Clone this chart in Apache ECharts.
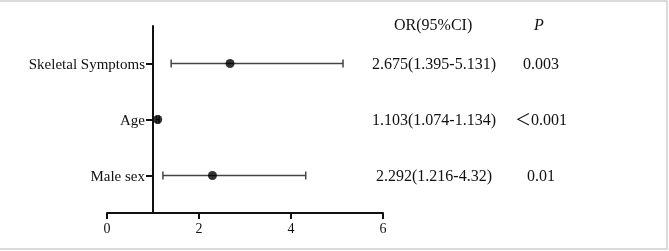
<!DOCTYPE html>
<html>
<head>
<meta charset="utf-8">
<script src="https://cdn.jsdelivr.net/npm/echarts@6/dist/echarts.min.js"></script>
<style>
  html, body { margin: 0; padding: 0; background: #fff; }
  #chart { width: 669px; height: 251px; }
</style>
</head>
<body>
<div id="chart"></div>
<script>
  // forest plot data
  var categories = ['Skeletal Symptoms', 'Age', 'Male sex'];
  var orValues = [2.675, 1.103, 2.292];
  var ciLower = [1.395, 1.074, 1.216];
  var ciUpper = [5.131, 1.134, 4.32];
  var orLabels = ['2.675(1.395-5.131)', '1.103(1.074-1.134)', '2.292(1.216-4.32)'];
  var pLabels = ['0.003', '\uFF1C0.001', '0.01'];
  var xTicks = [0, 2, 4, 6];

  var FONT = "'Liberation Serif', 'Times New Roman', 'Noto Sans CJK SC', serif";
  var INK = '#111';

  var rows = categories.map(function (c, i) { return i + 1; });

  var chart = echarts.init(document.getElementById('chart'));

  chart.setOption({
    backgroundColor: '#fff',
    animation: false,
    grid: { left: 107, right: 286, top: 26, bottom: 38 },
    xAxis: {
      type: 'value',
      min: xTicks[0],
      max: xTicks[xTicks.length - 1],
      interval: 2,
      splitLine: { show: false },
      axisLine: { lineStyle: { color: INK, width: 2 } },
      axisTick: { inside: false, length: 6, lineStyle: { color: INK, width: 2 } },
      axisLabel: { color: INK, fontFamily: FONT, fontSize: 14, margin: 9 }
    },
    yAxis: {
      type: 'value',
      inverse: true,
      min: 0.33,
      max: 3.67,
      offset: -46,
      splitLine: { show: false },
      axisLine: { show: true, lineStyle: { color: INK, width: 2 } },
      axisTick: { show: true, length: 7, customValues: rows, lineStyle: { color: INK, width: 2 } },
      axisLabel: {
        margin: 8,
        customValues: rows,
        formatter: function (v) { return '{c|' + (categories[Math.round(v) - 1] || '') + '}'; },
        rich: {
          c: { color: INK, fontFamily: FONT, fontSize: 15, padding: [4, 0, 0, 0] }
        }
      }
    },
    graphic: [
      {
        type: 'rect', silent: true,
        shape: { x: -1, y: 1, width: 668, height: 248 },
        style: { fill: 'none', stroke: '#cfcfcf', lineWidth: 1.5 }
      },
      {
        type: 'text', left: 394, top: 18,
        style: { text: 'OR(95%CI)', font: '16px ' + FONT, fill: INK }
      },
      {
        type: 'text', left: 534, top: 18,
        style: { text: 'P', font: 'italic 16px ' + FONT, fill: INK }
      }
    ],
    series: [
      {
        type: 'custom',
        name: 'CI',
        data: rows.map(function (r, i) { return [ciLower[i], ciUpper[i], r]; }),
        encode: { x: [0, 1], y: 2 },
        renderItem: function (params, api) {
          var a = api.coord([api.value(0), api.value(2)]);
          var b = api.coord([api.value(1), api.value(2)]);
          var cap = 4;
          var st = { stroke: '#444', lineWidth: 1.5 };
          return {
            type: 'group',
            children: [
              { type: 'line', shape: { x1: a[0], y1: a[1], x2: b[0], y2: b[1] }, style: st },
              { type: 'line', shape: { x1: a[0], y1: a[1] - cap, x2: a[0], y2: a[1] + cap }, style: st },
              { type: 'line', shape: { x1: b[0], y1: b[1] - cap, x2: b[0], y2: b[1] + cap }, style: st }
            ]
          };
        },
        z: 2
      },
      {
        type: 'scatter',
        name: 'OR',
        data: rows.map(function (r, i) { return [orValues[i], r]; }),
        symbol: 'circle',
        symbolSize: 9,
        itemStyle: { color: '#000' },
        z: 3
      },
      {
        type: 'custom',
        name: 'table',
        data: rows.map(function (r) { return [0, r]; }),
        encode: { x: 0, y: 1 },
        clip: false,
        renderItem: function (params, api) {
          var p = api.coord([0, api.value(1)]);
          var i = params.dataIndex;
          return {
            type: 'group',
            children: [
              { type: 'text', x: 434, y: p[1] + 1,
                style: { text: orLabels[i], font: '16px ' + FONT, fill: INK, align: 'center', verticalAlign: 'middle' } },
              { type: 'text', x: 541, y: p[1] + 1,
                style: { text: pLabels[i], font: '16px ' + FONT, fill: INK, align: 'center', verticalAlign: 'middle' } }
            ]
          };
        }
      }
    ]
  });
</script>
</body>
</html>
